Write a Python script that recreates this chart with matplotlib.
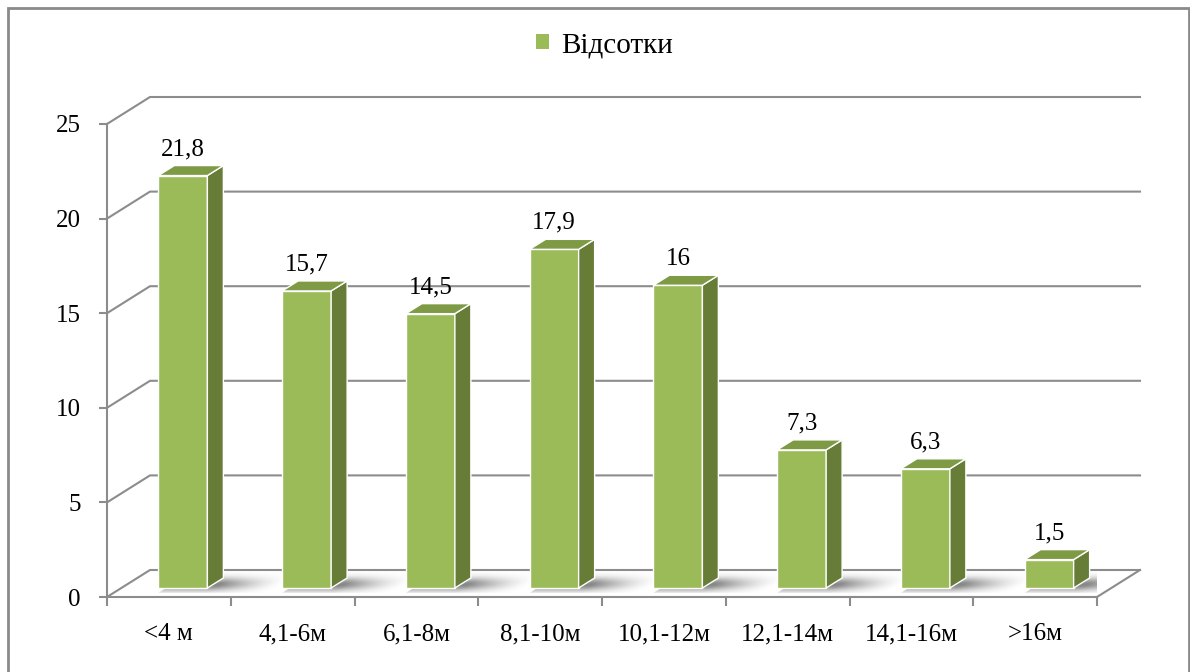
import numpy as np
import matplotlib.pyplot as plt
from matplotlib.patches import Polygon, Rectangle, Patch

categories = ['<4 м', '4,1-6м', '6,1-8м', '8,1-10м', '10,1-12м', '12,1-14м', '14,1-16м', '>16м']
values = [21.8, 15.7, 14.5, 17.9, 16, 7.3, 6.3, 1.5]
value_labels = ['21,8', '15,7', '14,5', '17,9', '16', '7,3', '6,3', '1,5']
y_ticks = [0, 5, 10, 15, 20, 25]
series_name = 'Відсотки'

plt.rcParams['font.family'] = ['Liberation Serif', 'DejaVu Serif']

W, H = 1190, 672
fig = plt.figure(figsize=(W / 100, H / 100), dpi=100)
ax = fig.add_axes([107 / W, 1 - 597 / H, 990 / W, 473 / H])
n = len(categories)
ax.set_xlim(-0.5, n - 0.5)
ax.set_ylim(0, 25)

# pixel -> data conversion for the pseudo-3d offsets
px_x = 990 / n
px_y = 473 / 25
wall_dx, wall_dy = 43 / px_x, 27 / px_y      # depth of the floor / side wall
shift_dx, shift_dy = 14 / px_x, 9 / px_y     # bars sit halfway into the floor
bar_dx, bar_dy = 16 / px_x, 10 / px_y        # depth of each bar
bar_w = 49 / px_x

grid_col = '#8c8c8c'
front_col = '#9BBB59'
side_col = '#677D37'
top_col = '#7E9A45'

# back wall gridlines and left wall diagonals
x_left, x_right = -0.5, n - 0.5
for y in y_ticks:
    ax.plot([x_left, x_left + wall_dx, x_right + wall_dx], [y, y + wall_dy, y + wall_dy],
            color=grid_col, lw=1.5, clip_on=False, zorder=1)
ax.plot([x_right, x_right + wall_dx], [0, wall_dy], color=grid_col, lw=1.5, clip_on=False, zorder=1)

# soft shadows on the floor, darkest just right of each bar
k = wall_dx / wall_dy
y0, y1 = 0.22, wall_dy - 0.12
reach = 0.5
total = bar_w + reach + k * (y1 - y0)
nx, ny = 300, 50
xs = np.linspace(0, total, nx)[None, :]
v = np.linspace(0, 1, ny)[:, None]
xs_rel = xs - k * (y1 - y0) * v          # follow the floor's depth slant
u = np.clip((xs_rel - bar_w) / reach, 0, 1)
alpha = 0.85 * (1 - u) ** 1.4 * np.exp(-((v - 0.4) / 0.32) ** 2)
img = np.zeros((ny, nx, 4))
img[..., :3] = 0.45
img[..., 3] = alpha
for i in range(n):
    xl = i - bar_w / 2 + shift_dx
    xr = xl + bar_w + reach
    poly = Polygon([(xl, y0), (xr, y0), (xr + k * (y1 - y0), y1), (xl + k * (y1 - y0), y1)],
                   closed=True, transform=ax.transData, visible=False)
    ax.add_patch(poly)
    im = ax.imshow(img, extent=(xl, xl + total, y0, y1), origin='lower',
                   aspect='auto', zorder=2, interpolation='bilinear')
    im.set_clip_path(poly)

# bars
for i, (val, lab) in enumerate(zip(values, value_labels)):
    xl = i - bar_w / 2 + shift_dx
    xr = xl + bar_w
    yb = shift_dy
    yt = shift_dy + val
    front = Polygon([(xl, yb), (xr, yb), (xr, yt), (xl, yt)], closed=True,
                    facecolor=front_col, edgecolor='white', lw=1, zorder=3, clip_on=False)
    side = Polygon([(xr, yb), (xr + bar_dx, yb + bar_dy), (xr + bar_dx, yt + bar_dy), (xr, yt)],
                   closed=True, facecolor=side_col, edgecolor='white', lw=1, zorder=3, clip_on=False)
    top = Polygon([(xl, yt), (xl + bar_dx, yt + bar_dy), (xr + bar_dx, yt + bar_dy), (xr, yt)],
                  closed=True, facecolor=top_col, edgecolor='white', lw=1, zorder=3, clip_on=False)
    for p in (front, side, top):
        ax.add_patch(p)
    ax.annotate(lab, xy=((xl + xr) / 2, yt + bar_dy), xytext=(0, 4), textcoords='offset points',
                ha='center', va='bottom', fontsize=18, zorder=4, annotation_clip=False)

ax.set_xlim(-0.5, n - 0.5)
ax.set_ylim(0, 25)

# axes styling
for s in ('top', 'right'):
    ax.spines[s].set_visible(False)
for s in ('left', 'bottom'):
    ax.spines[s].set_color(grid_col)
    ax.spines[s].set_linewidth(1.5)
ax.set_facecolor('none')
ax.set_yticks(y_ticks)
ax.set_yticklabels([str(t) for t in y_ticks])
ax.set_xticks(range(n))
ax.set_xticklabels(categories)
ax.set_xticks(np.arange(-0.5, n), minor=True)
ax.tick_params(axis='y', length=6, width=1.5, color=grid_col, pad=13, labelsize=18)
ax.tick_params(axis='x', which='major', length=0, pad=19, labelsize=18)
ax.tick_params(axis='x', which='minor', length=6.5, width=1.5, color=grid_col)

ax.legend(handles=[Patch(facecolor=front_col, label=series_name)], loc='center',
          bbox_to_anchor=(0.508, 0.933), bbox_transform=fig.transFigure, frameon=False,
          fontsize=21, handlelength=0.45, handleheight=0.45, handletextpad=0.4)

# outer frame
fig.patches.append(Rectangle((8 / W, -0.02), (1188.5 - 8) / W, 1.02 - 7.5 / H,
                             transform=fig.transFigure, fill=False, edgecolor='#8a8a8a', lw=2))

fig.savefig('out.png', dpi=100)
